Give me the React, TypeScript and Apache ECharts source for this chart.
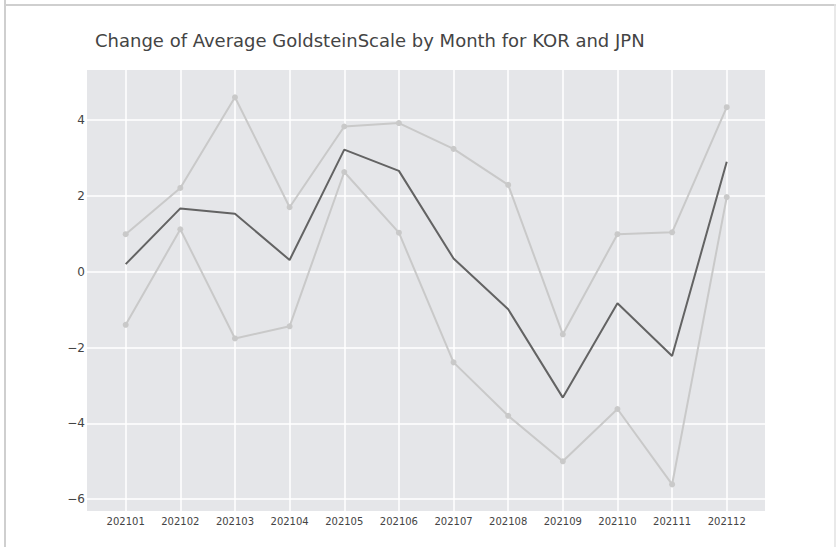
import React, { useEffect, useRef } from "react";
import * as echarts from "echarts";

const months = ["202101", "202102", "202103", "202104", "202105", "202106", "202107", "202108", "202109", "202110", "202111", "202112"];
const upperSeries = [0.99, 2.21, 4.6, 1.7, 3.83, 3.92, 3.24, 2.29, -1.65, 0.99, 1.04, 4.34];
const middleSeries = [0.2, 1.67, 1.53, 0.31, 3.22, 2.66, 0.35, -0.99, -3.32, -0.83, -2.22, 2.9];
const lowerSeries = [-1.4, 1.12, -1.76, -1.44, 2.63, 1.03, -2.39, -3.8, -5.0, -3.62, -5.61, 1.97];
const yTicks = [-6, -4, -2, 0, 2, 4];
const titleText = "Change of Average GoldsteinScale by Month for KOR and JPN";

const FONT = "DejaVu Sans, Verdana, sans-serif";

export default function App() {
  const ref = useRef<HTMLDivElement>(null);
  useEffect(() => {
    if (!ref.current) return;
    const chart = echarts.init(ref.current, undefined, { renderer: "svg" });
    const toPairs = (arr: number[]) => arr.map((v, i) => [i, v]);
    const light = "#c9c9c9";
    chart.setOption({
      animation: false,
      backgroundColor: "#ffffff",
      title: {
        text: titleText,
        left: 90,
        top: 26,
        textStyle: { fontFamily: FONT, fontSize: 18, fontWeight: "normal", color: "#444444" },
      },
      graphic: [
        { type: "line", shape: { x1: 5, y1: 0, x2: 5, y2: 547 }, style: { stroke: "#cfcfcf", lineWidth: 2 } },
        { type: "line", shape: { x1: 4, y1: 5, x2: 836, y2: 5 }, style: { stroke: "#cfcfcf", lineWidth: 2 } },
        { type: "line", shape: { x1: 835, y1: 4, x2: 835, y2: 547 }, style: { stroke: "#e2e2e2", lineWidth: 1.5 } },
      ],
      grid: {
        left: 87,
        top: 70,
        right: 72,
        bottom: 36,
        show: true,
        backgroundColor: "#e5e6e9",
        borderWidth: 0,
        containLabel: false,
      },
      xAxis: {
        type: "value",
        min: -0.708,
        max: 11.7,
        axisLine: { show: false },
        axisTick: { show: false, customValues: months.map((_, i) => i) },
        axisLabel: {
          customValues: months.map((_, i) => i),
          formatter: (v: number) => months[Math.round(v)] ?? "",
          fontFamily: FONT,
          fontSize: 10,
          color: "#444444",
          margin: 5,
        },
        splitLine: { show: true, lineStyle: { color: "#ffffff", width: 1.5 } },
      },
      yAxis: {
        type: "value",
        min: -6.31,
        max: 5.32,
        axisLine: { show: false },
        axisTick: { show: false, customValues: yTicks },
        axisLabel: {
          customValues: yTicks,
          formatter: (v: number) => String(v).replace("-", "\u2212"),
          fontFamily: FONT,
          fontSize: 12,
          color: "#444444",
          margin: 2,
        },
        splitLine: { show: true, lineStyle: { color: "#ffffff", width: 1.5 } },
      },
      series: [
        {
          type: "line",
          data: toPairs(upperSeries),
          symbol: "circle",
          symbolSize: 6,
          lineStyle: { color: light, width: 2 },
          itemStyle: { color: light },
        },
        {
          type: "line",
          data: toPairs(lowerSeries),
          symbol: "circle",
          symbolSize: 6,
          lineStyle: { color: light, width: 2 },
          itemStyle: { color: light },
        },
        {
          type: "line",
          data: toPairs(middleSeries),
          symbol: "none",
          lineStyle: { color: "#636363", width: 2 },
          itemStyle: { color: "#636363" },
        },
      ],
    });
    return () => chart.dispose();
  }, []);
  return (
    <div
      ref={ref}
      style={{ position: "fixed", left: 0, top: 0, width: 837, height: 547 }}
    />
  );
}
